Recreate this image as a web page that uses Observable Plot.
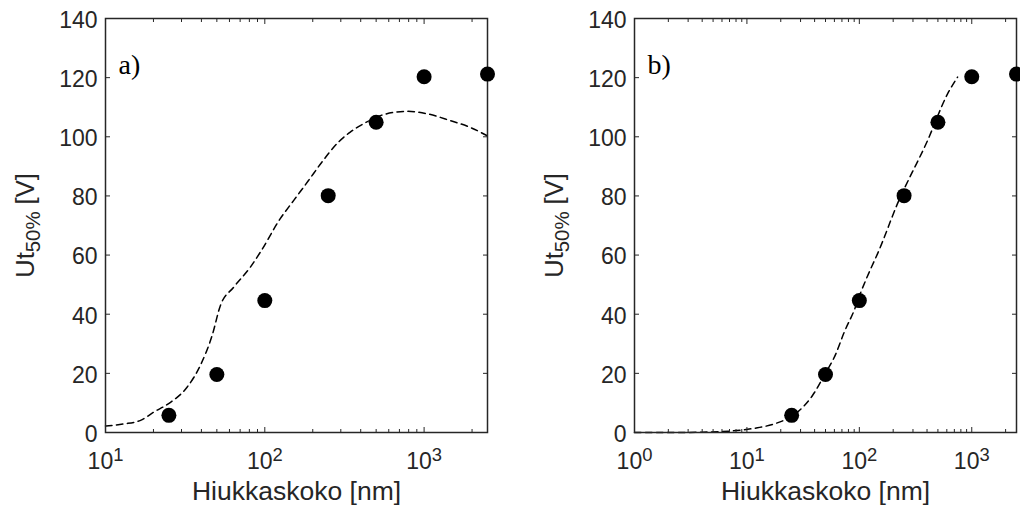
<!DOCTYPE html>
<html><head><meta charset="utf-8">
<script src="https://cdn.jsdelivr.net/npm/d3@7"></script>
<script src="https://cdn.jsdelivr.net/npm/@observablehq/plot@0.6"></script>
<style>
body{margin:0;background:#fff;}
#wrap{display:flex;width:1020px;height:510px;overflow:hidden;}
</style></head><body><div id="wrap"></div>
<script>
// measured points (same in both panels)
const sizes = [25, 50, 100, 250, 500, 1000, 2500];
const ut50 = [5.8, 19.6, 44.6, 80.1, 104.9, 120.3, 121.2];
// panel a) fitted curve
const fitAx = [10, 13, 16.6, 20.1, 25.6, 32.5, 39.4, 46.7, 52.6, 63.7, 81.1, 93.8, 125, 152, 188, 228, 290, 344, 417, 556, 778, 1040, 1455, 1940, 2500];
const fitAy = [2.2, 2.9, 4.1, 6.9, 10.2, 15.3, 22.7, 32.8, 42.9, 49.1, 55.9, 61.0, 72.3, 78.5, 85.2, 91.4, 98.2, 101.6, 104.4, 107.5, 108.6, 107.8, 105.5, 103.2, 100.3];
// panel b) fitted curve
const fitBx = [1, 2, 4, 6, 8.8, 12.4, 17.5, 28.2, 38.3, 48.7, 61.8, 73.3, 89.9, 103, 126, 145, 218, 404, 609, 748];
const fitBy = [0, 0, 0.1, 0.3, 0.8, 1.6, 2.9, 6.9, 12.5, 19.3, 26.6, 33.9, 41.3, 47.4, 55.3, 60.4, 77.3, 98.7, 114.5, 120.2];
// ticks and labels
const yTicks = [0, 20, 40, 60, 80, 100, 120, 140];
const majorA = [10, 100, 1000];
const minorA = [20, 30, 40, 50, 60, 70, 80, 90, 200, 300, 400, 500, 600, 700, 800, 900, 2000];
const majorB = [1, 10, 100, 1000];
const minorB = [2, 3, 4, 5, 6, 7, 8, 9, 20, 30, 40, 50, 60, 70, 80, 90, 200, 300, 400, 500, 600, 700, 800, 900, 2000];
const xLabel = "Hiukkaskoko [nm]";
const yLabel = "Ut50% [V]";
const panelTags = ["a)", "b)"];

const ink = "#262626";
const sans = "'Liberation Sans', Arial, Helvetica, sans-serif";

function panel({xDomain, majors, minors, fitX, fitY, tag, marginLeft, marginRight}) {
  const dots = sizes.map((s, i) => ({x: s, y: ut50[i]}));
  const fit = fitX.map((x, i) => ({x, y: fitY[i]}));
  const tickOpts = {fill: null, label: null, stroke: ink, strokeWidth: 1};
  const svg = Plot.plot({
    width: 510, height: 510,
    marginLeft, marginRight, marginTop: 18, marginBottom: 78,
    style: {fontFamily: sans, color: ink, background: "white"},
    x: {type: "log", domain: xDomain, label: null},
    y: {domain: [0, 140], label: null},
    marks: [
      Plot.line(fit, {x: "x", y: "y", stroke: "#000", strokeWidth: 1.5, strokeDasharray: "6.5,4.5", curve: "monotone-x"}),
      Plot.frame({stroke: ink, strokeWidth: 1.5}),
      Plot.axisX(majors, {anchor: "bottom", tickSize: -5, ...tickOpts}),
      Plot.axisX(minors, {anchor: "bottom", tickSize: -3, ...tickOpts}),
      Plot.axisX(majors, {anchor: "top", tickSize: -5, ...tickOpts}),
      Plot.axisX(minors, {anchor: "top", tickSize: -3, ...tickOpts}),
      Plot.axisY(yTicks, {anchor: "left", tickSize: -5, ...tickOpts}),
      Plot.axisY(yTicks, {anchor: "right", tickSize: -5, ...tickOpts}),
      Plot.axisX(majors, {anchor: "bottom", tickSize: 0, tickPadding: 20, label: null, fill: ink, fontSize: 23,
        tickFormat: d => "10^" + Math.round(Math.log10(d))}),
      Plot.axisY(yTicks, {anchor: "left", tickSize: 0, tickPadding: 8, label: null, fill: ink, fontSize: 23, dy: 2}),
      Plot.text([xLabel], {frameAnchor: "bottom", textAnchor: "middle", dy: 67, fontSize: 26.5, fill: ink, text: d => d}),
      Plot.text([yLabel], {frameAnchor: "left", textAnchor: "middle", rotate: -90, dx: -80, fontSize: 25.5, fill: ink, text: d => d}),
      Plot.text([tag], {frameAnchor: "top-left", textAnchor: "start", dx: 13, dy: 36, fontSize: 28,
        fontFamily: "'Liberation Serif', 'Times New Roman', serif", fill: "#000", text: d => d}),
      Plot.dot(dots, {x: "x", y: "y", r: 7.5, fill: "#000", stroke: null})
    ]
  });
  // superscripts / subscripts as real text
  svg.querySelectorAll("text").forEach(t => {
    const s = t.textContent;
    const m = /^10\^(\d)$/.exec(s);
    if (m) {
      t.textContent = "10";
      const sup = document.createElementNS("http://www.w3.org/2000/svg", "tspan");
      sup.setAttribute("dy", "-8");
      sup.setAttribute("font-size", "0.8em");
      sup.textContent = m[1];
      t.appendChild(sup);
    } else if (s === yLabel) {
      t.textContent = "Ut";
      const sub = document.createElementNS("http://www.w3.org/2000/svg", "tspan");
      sub.setAttribute("dy", "6");
      sub.setAttribute("font-size", "0.8em");
      sub.textContent = "50%";
      const rest = document.createElementNS("http://www.w3.org/2000/svg", "tspan");
      rest.setAttribute("dy", "-6");
      rest.textContent = " [V]";
      t.appendChild(sub);
      t.appendChild(rest);
    }
  });
  return svg;
}

const wrap = document.getElementById("wrap");
wrap.appendChild(panel({xDomain: [10, 2500], majors: majorA, minors: minorA, fitX: fitAx, fitY: fitAy,
  tag: panelTags[0], marginLeft: 105, marginRight: 23}));
wrap.appendChild(panel({xDomain: [1, 2500], majors: majorB, minors: minorB, fitX: fitBx, fitY: fitBy,
  tag: panelTags[1], marginLeft: 124, marginRight: 4}));
</script></body></html>
